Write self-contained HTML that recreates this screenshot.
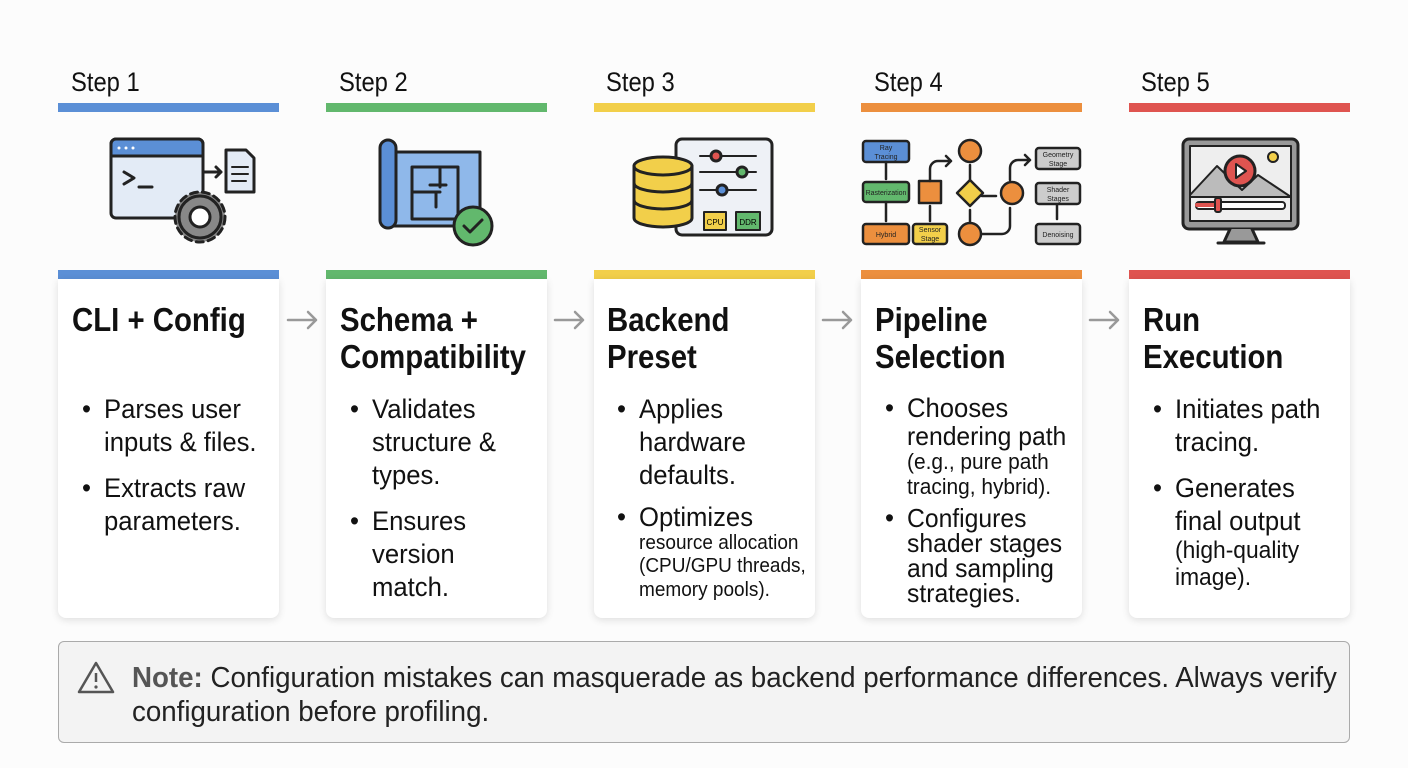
<!DOCTYPE html>
<html><head><meta charset="utf-8">
<style>
body{margin:0;width:1408px;height:768px;background:#fcfcfc;position:relative;overflow:hidden;font-family:"Liberation Sans",sans-serif;color:#111}
.a{position:absolute;white-space:nowrap;transform:scaleX(.95);transform-origin:left center;line-height:1}
.bar{position:absolute;height:9px;width:221px}
.card{position:absolute;top:279px;width:221px;height:339px;background:#fff;border-radius:0 0 8px 8px;box-shadow:0 2px 8px rgba(0,0,0,.12)}
.st{font-size:27px;top:69px;transform:scaleX(.88)}
.t{font-size:33px;font-weight:bold;transform:scaleX(.89)}
.b{font-size:27px}
</style></head><body>
<div class="a st" style="left:71px">Step 1</div>
<div class="a st" style="left:339px">Step 2</div>
<div class="a st" style="left:606px">Step 3</div>
<div class="a st" style="left:874px">Step 4</div>
<div class="a st" style="left:1141px">Step 5</div>
<div class="bar" style="left:58px;top:103px;background:#5b8fd6"></div>
<div class="bar" style="left:326px;top:103px;background:#62b86d"></div>
<div class="bar" style="left:594px;top:103px;background:#f2cf4a"></div>
<div class="bar" style="left:861px;top:103px;background:#ec8f3e"></div>
<div class="bar" style="left:1129px;top:103px;background:#df5450"></div>

<svg width="1408" height="260" style="position:absolute;left:0;top:0" stroke-linejoin="round" stroke-linecap="round">
<g stroke="#222" stroke-width="3">
<rect x="111" y="139" width="92" height="79" rx="5" fill="#e3ebf6"/>
<path d="M111 156 V144 a5 5 0 0 1 5-5 h82 a5 5 0 0 1 5 5 V156 Z" fill="#5b8fd6"/>
<circle cx="119" cy="148" r="1.5" fill="#fff" stroke="none"/><circle cx="126" cy="148" r="1.5" fill="#fff" stroke="none"/><circle cx="133" cy="148" r="1.5" fill="#fff" stroke="none"/>
<path d="M124 172 l10 6 -10 6 M139 187 h13" fill="none"/>
<path d="M203 172 h18 M216 167 l5 5 -5 5" fill="none"/>
<path d="M226 150 h20 l8 8 v34 h-28 Z" fill="#e3ebf6"/>
<path d="M232 167 h16 M232 174 h16 M232 181 h14" fill="none" stroke-width="2"/>
<circle cx="200" cy="217" r="25" fill="#888" stroke-dasharray="7 5"/>
<circle cx="200" cy="217" r="21" fill="#888"/>
<circle cx="200" cy="217" r="10" fill="#fff"/>
</g>
<g stroke="#222" stroke-width="3">
<path d="M388 152 h92 v74 h-92 Z" fill="#8fb8ea"/>
<rect x="380" y="140" width="16" height="88" rx="8" fill="#5b8fd6"/>
<path d="M412 167 h46 v52 h-46 Z M440 167 v20 M412 192 h28 M436 192 v15 M430 185 h16" fill="none"/>
<circle cx="473" cy="226" r="19" fill="#62b86d"/>
<path d="M464 226 l6 6 12 -12" fill="none"/>
</g>
<g stroke="#222" stroke-width="3">
<rect x="676" y="139" width="96" height="96" rx="6" fill="#eef1f6"/>
<path d="M700 156 h56 M700 172 h56 M700 190 h56" stroke-width="2"/>
<circle cx="716" cy="156" r="5" fill="#df5450"/>
<circle cx="742" cy="172" r="5" fill="#62b86d"/>
<circle cx="722" cy="190" r="5" fill="#5b8fd6"/>
<rect x="704" y="212" width="22" height="18" fill="#f2cf4a" stroke-width="2"/>
<rect x="736" y="212" width="24" height="18" fill="#62b86d" stroke-width="2"/>
<path d="M634 166 v52 a29 9 0 0 0 58 0 v-52" fill="#f2cf4a"/>
<ellipse cx="663" cy="166" rx="29" ry="9" fill="#f2cf4a"/>
<path d="M634 183 a29 9 0 0 0 58 0 M634 200 a29 9 0 0 0 58 0" fill="none"/>
</g>
<text x="715" y="225" font-size="8" font-family="Liberation Sans" text-anchor="middle">CPU</text>
<text x="748" y="225" font-size="8" font-family="Liberation Sans" text-anchor="middle">DDR</text>
<g stroke="#222" stroke-width="2.5">
<rect x="863" y="141" width="46" height="21" rx="3" fill="#5b8fd6"/>
<rect x="863" y="182" width="46" height="20" rx="3" fill="#62b86d"/>
<rect x="863" y="224" width="46" height="20" rx="3" fill="#ec8f3e"/>
<rect x="913" y="224" width="34" height="20" rx="3" fill="#f2cf4a"/>
<rect x="919" y="181" width="22" height="22" fill="#ec8f3e"/>
<path d="M886 162 v17 M886 202 v19 M930 221 v-15 M930 181 v-12 a8 8 0 0 1 8 -8 h13 M946 156 l5 5 -5 5 M970 165 v14 M970 210 v12 M982 196 h14 M1010 180 v-12 a8 8 0 0 1 8-8 h12 M1025 155 l5 5 -5 5 M980 234 h22 a8 8 0 0 0 8-8 v-18 M1057 203 v16" fill="none"/>
<circle cx="970" cy="151" r="11" fill="#ec8f3e"/>
<path d="M970 180 l13 13 -13 13 -13 -13 Z" fill="#f2cf4a"/>
<circle cx="1012" cy="193" r="11" fill="#ec8f3e"/>
<circle cx="970" cy="234" r="11" fill="#ec8f3e"/>
<rect x="1036" y="148" width="44" height="21" rx="3" fill="#ccc"/>
<rect x="1036" y="183" width="44" height="21" rx="3" fill="#ccc"/>
<rect x="1036" y="224" width="44" height="20" rx="3" fill="#ccc"/>
</g>
<g font-family="Liberation Sans" font-size="7" text-anchor="middle" fill="#222">
<text x="886" y="150">Ray</text><text x="886" y="159">Tracing</text>
<text x="886" y="195">Rasterization</text>
<text x="886" y="237">Hybrid</text>
<text x="930" y="232">Sensor</text><text x="930" y="241">Stage</text>
<text x="1058" y="157">Geometry</text><text x="1058" y="166">Stage</text>
<text x="1058" y="192">Shader</text><text x="1058" y="201">Stages</text>
<text x="1058" y="237">Denoising</text>
</g>
<g stroke="#222" stroke-width="3">
<rect x="1183" y="139" width="115" height="90" rx="6" fill="#999"/>
<rect x="1190" y="146" width="101" height="75" fill="#eee" stroke-width="2"/>
<path d="M1190 195 l27 -29 25 24 16 -15 33 22 v0 h-101 Z" fill="#bbb" stroke-width="2"/>
<circle cx="1240" cy="171" r="15" fill="#df5450"/>
<path d="M1236 164 l10 7 -10 7 Z" fill="#fff" stroke-width="2"/>
<circle cx="1273" cy="157" r="5" fill="#f2cf4a" stroke-width="2"/>
<rect x="1196" y="202" width="89" height="7" rx="3" fill="#fff" stroke-width="2"/>
<path d="M1197 205 h22" stroke="#df5450" stroke-width="4"/>
<rect x="1215" y="198" width="6" height="14" rx="2" fill="#df5450" stroke-width="2"/>
<path d="M1230 229 l-6 13 h34 l-6 -13 M1218 243 h46" fill="#999"/>
</g>
</svg>

<div class="bar" style="left:58px;top:270px;background:#5b8fd6"></div>
<div class="bar" style="left:326px;top:270px;background:#62b86d"></div>
<div class="bar" style="left:594px;top:270px;background:#f2cf4a"></div>
<div class="bar" style="left:861px;top:270px;background:#ec8f3e"></div>
<div class="bar" style="left:1129px;top:270px;background:#df5450"></div>
<div class="card" style="left:58px"></div>
<div class="card" style="left:326px"></div>
<div class="card" style="left:594px"></div>
<div class="card" style="left:861px"></div>
<div class="card" style="left:1129px"></div>
<svg width="1408" height="40" style="position:absolute;left:0;top:300px" stroke="#999" stroke-width="2.5" fill="none" stroke-linecap="round" stroke-linejoin="round">
<path d="M288 20 h28 M308 12 l8 8 -8 8"/>
<path d="M555 20 h28 M575 12 l8 8 -8 8"/>
<path d="M823 20 h28 M843 12 l8 8 -8 8"/>
<path d="M1090 20 h28 M1110 12 l8 8 -8 8"/>
</svg>

<div class="a t" style="left:72px;top:303px">CLI + Config</div>
<div class="a t" style="left:340px;top:303px">Schema +</div>
<div class="a t" style="left:340px;top:340px">Compatibility</div>
<div class="a t" style="left:607px;top:303px">Backend</div>
<div class="a t" style="left:607px;top:340px">Preset</div>
<div class="a t" style="left:875px;top:303px">Pipeline</div>
<div class="a t" style="left:875px;top:340px">Selection</div>
<div class="a t" style="left:1143px;top:303px">Run</div>
<div class="a t" style="left:1143px;top:340px">Execution</div>

<div class="a b" style="left:82px;top:396px">•</div>
<div class="a b" style="left:104px;top:396px">Parses user</div>
<div class="a b" style="left:104px;top:429px">inputs &amp; files.</div>
<div class="a b" style="left:82px;top:475px">•</div>
<div class="a b" style="left:104px;top:475px">Extracts raw</div>
<div class="a b" style="left:104px;top:508px">parameters.</div>

<div class="a b" style="left:350px;top:396px">•</div>
<div class="a b" style="left:372px;top:396px">Validates</div>
<div class="a b" style="left:372px;top:429px">structure &amp;</div>
<div class="a b" style="left:372px;top:462px">types.</div>
<div class="a b" style="left:350px;top:508px">•</div>
<div class="a b" style="left:372px;top:508px">Ensures</div>
<div class="a b" style="left:372px;top:541px">version</div>
<div class="a b" style="left:372px;top:574px">match.</div>

<div class="a b" style="left:617px;top:396px">•</div>
<div class="a b" style="left:639px;top:396px">Applies</div>
<div class="a b" style="left:639px;top:429px">hardware</div>
<div class="a b" style="left:639px;top:462px">defaults.</div>
<div class="a b" style="left:617px;top:504px">•</div>
<div class="a b" style="left:639px;top:504px">Optimizes</div>
<div class="a" style="left:639px;top:533px;font-size:20px">resource allocation</div>
<div class="a" style="left:639px;top:556px;font-size:20px">(CPU/GPU threads,</div>
<div class="a" style="left:639px;top:580px;font-size:20px">memory pools).</div>

<div class="a b" style="left:885px;top:395px">•</div>
<div class="a b" style="left:907px;top:395px">Chooses</div>
<div class="a" style="left:907px;top:423px;font-size:26px">rendering path</div>
<div class="a" style="left:907px;top:451px;font-size:22px">(e.g., pure path</div>
<div class="a" style="left:907px;top:476px;font-size:22px">tracing, hybrid).</div>
<div class="a b" style="left:885px;top:505px">•</div>
<div class="a" style="left:907px;top:505px;font-size:26px">Configures</div>
<div class="a" style="left:907px;top:530px;font-size:26px">shader stages</div>
<div class="a" style="left:907px;top:555px;font-size:26px">and sampling</div>
<div class="a" style="left:907px;top:580px;font-size:26px">strategies.</div>

<div class="a b" style="left:1153px;top:396px">•</div>
<div class="a b" style="left:1175px;top:396px">Initiates path</div>
<div class="a b" style="left:1175px;top:429px">tracing.</div>
<div class="a b" style="left:1153px;top:475px">•</div>
<div class="a b" style="left:1175px;top:475px">Generates</div>
<div class="a b" style="left:1175px;top:508px">final output</div>
<div class="a" style="left:1175px;top:539px;font-size:24px">(high-quality</div>
<div class="a" style="left:1175px;top:566px;font-size:24px">image).</div>

<div style="position:absolute;left:58px;top:641px;width:1290px;height:100px;border:1.5px solid #aaa;border-radius:6px;background:#f3f3f3"></div>
<svg width="40" height="36" style="position:absolute;left:77px;top:660px"><path d="M19 3 L36 32 H2 Z" fill="none" stroke="#555" stroke-width="2.5" stroke-linejoin="round"/><path d="M19 13 v9" stroke="#555" stroke-width="2.5"/><circle cx="19" cy="27" r="1.6" fill="#555"/></svg>
<div class="a" style="left:132px;top:664px;font-size:29px;color:#222;transform:scaleX(.955)"><b style="color:#555">Note:</b> Configuration mistakes can masquerade as backend performance differences. Always verify</div>
<div class="a" style="left:132px;top:698px;font-size:29px;color:#222;transform:scaleX(.955)">configuration before profiling.</div>
</body></html>
